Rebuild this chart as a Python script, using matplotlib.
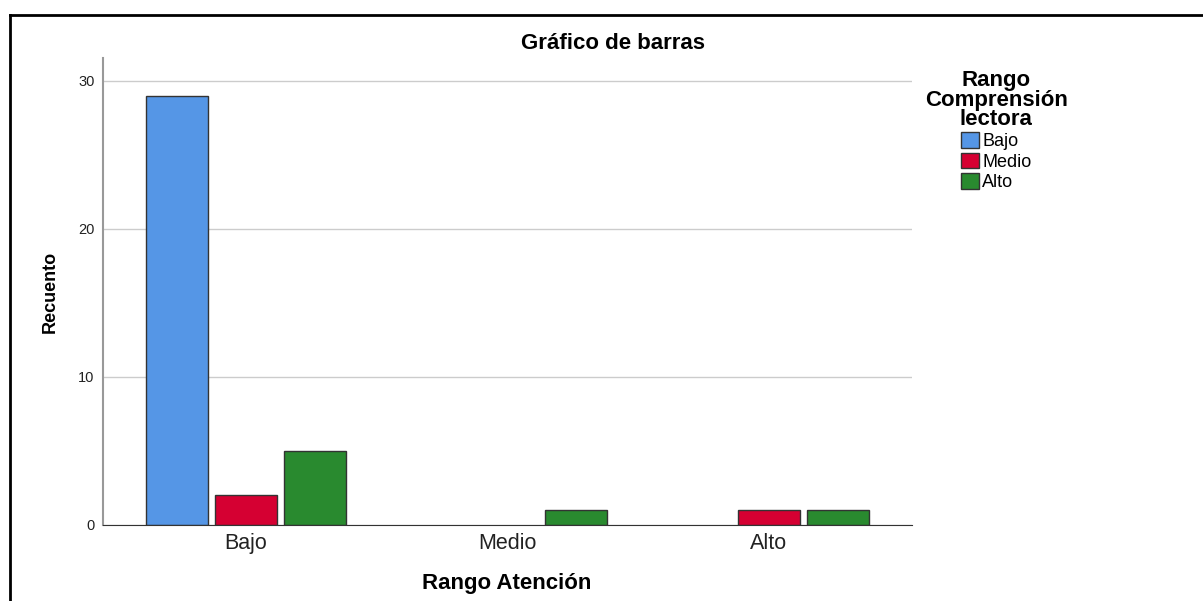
import matplotlib.pyplot as plt
from matplotlib.patches import Patch
from matplotlib.lines import Line2D
import numpy as np

plt.rcParams['font.family'] = ['Liberation Sans', 'DejaVu Sans']

# datos
categorias = ['Bajo', 'Medio', 'Alto']
series = ['Bajo', 'Medio', 'Alto']
bajo = [29, 0, 0]
medio = [2, 0, 1]
alto = [5, 1, 1]
colores = ['#5596e6', '#d50032', '#298a2f']

fig = plt.figure(figsize=(12.03, 6.01), dpi=100)
ax = fig.add_axes([0.0856, 0.1265, 0.6724, 0.777])

x = np.arange(len(categorias))
paso = 0.264
ancho = 0.237
for i, (vals, col) in enumerate(zip([bajo, medio, alto], colores)):
    pos = x + (i - 1) * paso
    vals = np.array(vals)
    m = vals > 0
    ax.bar(pos[m], vals[m], width=ancho, color=col, edgecolor='#333333', linewidth=1.0, zorder=3)

ax.set_xlim(-0.547, 2.547)
ax.set_ylim(0, 31.55)
ax.set_yticks([0, 10, 20, 30])
ax.set_xticks(x)
ax.set_xticklabels(categorias, fontsize=15.5, color='#222222')
ax.tick_params(axis='y', length=0, labelsize=10.5, pad=6, labelcolor='#222222')
ax.tick_params(axis='x', length=0, pad=6)
ax.grid(axis='y', color='#cccccc', linewidth=1, zorder=0)

for s in ['top', 'right']:
    ax.spines[s].set_visible(False)
ax.spines['left'].set_color('#999999')
ax.spines['left'].set_linewidth(1.5)
ax.spines['bottom'].set_color('#333333')
ax.spines['bottom'].set_zorder(4)

fig.text(0.5096, 0.9185, 'Gráfico de barras', fontsize=16, fontweight='bold', ha='center', va='baseline')
ax.set_ylabel('Recuento', fontsize=13, fontweight='bold', labelpad=14)
fig.text(0.4215, 0.020, 'Rango Atención', fontsize=16, fontweight='bold', ha='center', va='baseline')

handles = [Patch(facecolor=c, edgecolor='#333333', linewidth=1.0, label=s) for c, s in zip(colores, series)]
leg = fig.legend(handles=handles, title='Rango\nComprensión\nlectora', loc='upper center',
                 bbox_to_anchor=(0.828, 0.904), frameon=False, fontsize=13,
                 handlelength=1.0, handleheight=0.95, handletextpad=0.2, labelspacing=0.13,
                 borderpad=0.2, title_fontproperties={'weight': 'bold', 'size': 16})
leg._legend_box.align = 'center'
leg.get_title().set_multialignment('center')
leg.get_title().set_linespacing(0.9)

# marco
fig.add_artist(Line2D([0.0083, 1.0], [0.975, 0.975], color='black', linewidth=2))
fig.add_artist(Line2D([0.0083, 0.0083], [0.0, 0.975], color='black', linewidth=2))

fig.savefig('out.png', dpi=100)
